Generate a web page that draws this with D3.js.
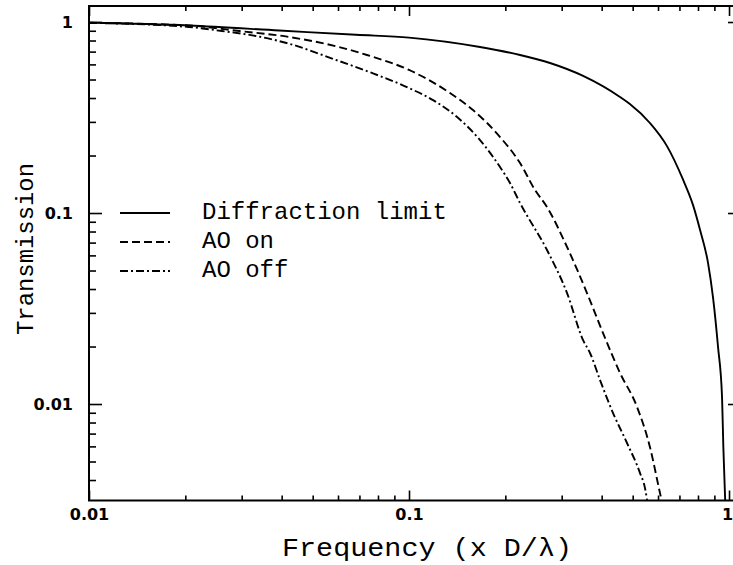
<!DOCTYPE html>
<html><head><meta charset="utf-8">
<script src="https://cdn.jsdelivr.net/npm/d3@7"></script>
<style>body{margin:0;background:#fff}</style>
</head><body>
<svg id="c" width="733" height="565"></svg>
<script>
// ---- data ----
const diffFreq  = [0.01, 0.0205, 0.0393, 0.0683, 0.1, 0.1667, 0.2223, 0.2758, 0.350, 0.4564, 0.490, 0.566, 0.640, 0.718, 0.772, 0.812, 0.860, 0.891, 0.924, 0.951, 0.960, 0.975];
const diffTrans = [0.994, 0.959, 0.903, 0.857, 0.829, 0.740, 0.672, 0.610, 0.522, 0.405, 0.372, 0.296, 0.224, 0.1498, 0.110, 0.0815, 0.0547, 0.0363, 0.0199, 0.0109, 0.00596, 0.0028];

const aoOnFreq  = [0.01, 0.0205, 0.0295, 0.0422, 0.0604, 0.0739, 0.1, 0.1343, 0.1585, 0.1925, 0.2223, 0.2476, 0.2699, 0.3118, 0.3599, 0.4040, 0.4564, 0.5160, 0.566, 0.6085, 0.625];
const aoOnTrans = [0.99, 0.959, 0.897, 0.835, 0.740, 0.672, 0.561, 0.425, 0.346, 0.250, 0.1827, 0.1319, 0.1075, 0.0664, 0.0381, 0.0235, 0.01454, 0.00965, 0.00596, 0.00342, 0.0028];

const aoOffFreq  = [0.01, 0.0205, 0.02603, 0.03326, 0.0422, 0.0604, 0.0654, 0.0766, 0.1, 0.1189, 0.1413, 0.1667, 0.1925, 0.2068, 0.2223, 0.2699, 0.3118, 0.3499, 0.3678, 0.3953, 0.4341, 0.4800, 0.5272, 0.5463, 0.56];
const aoOffTrans = [0.99, 0.942, 0.897, 0.845, 0.770, 0.625, 0.596, 0.541, 0.451, 0.390, 0.318, 0.241, 0.174, 0.1436, 0.1128, 0.0640, 0.0381, 0.0216, 0.0185, 0.01335, 0.00897, 0.00625, 0.00435, 0.00363, 0.0028];

const xMajorTicks = [0.01, 0.1, 1];
const xTickLabels = ["0.01", "0.1", "1"];
const xMinorTicks = [0.02,0.03,0.04,0.05,0.06,0.07,0.08,0.09,0.2,0.3,0.4,0.5,0.6,0.7,0.8,0.9];
const yMajorTicks = [1, 0.1, 0.01];
const yTickLabels = ["1", "0.1", "0.01"];
const yMinorTicks = [0.9,0.8,0.7,0.6,0.5,0.4,0.3,0.2,0.09,0.08,0.07,0.06,0.05,0.04,0.03,0.02,0.009,0.008,0.007,0.006,0.005,0.004];
const legendLabels = ["Diffraction limit", "AO on", "AO off"];
const xTitle = "Frequency (x D/\u03bb)";
const yTitle = "Transmission";

// ---- layout ----
const L = 89, R = 735, T = 6, B = 500.5;
const svg = d3.select("#c");
const x = d3.scaleLog().domain([0.01, 1.044]).range([L, R]);
const y = d3.scaleLog().domain([0.003125, 1.213]).range([B, T]);

svg.append("defs").append("clipPath").attr("id","pc")
  .append("rect").attr("x",L).attr("y",T).attr("width",R-L).attr("height",B-T);

const series = [
  {f: diffFreq, t: diffTrans, dash: null},
  {f: aoOnFreq, t: aoOnTrans, dash: "8,4"},
  {f: aoOffFreq, t: aoOffTrans, dash: "8,3,2,3"}
];
const line = d3.line().x(d => x(d[0])).y(d => y(d[1])).curve(d3.curveMonotoneX);
const g = svg.append("g").attr("clip-path","url(#pc)");
series.forEach(s => {
  g.append("path").datum(s.f.map((v,i)=>[v, s.t[i]]))
   .attr("d", line).attr("fill","none").attr("stroke","#000")
   .attr("stroke-width",1.9).attr("stroke-dasharray", s.dash);
});

// ---- axes ----
function styleAxis(sel){ sel.select(".domain").remove(); sel.selectAll("line").attr("stroke","#000").attr("stroke-width",1.6); }
const tickFont = "'DejaVu Sans', sans-serif";
svg.append("g").attr("transform",`translate(0,${B})`)
  .call(d3.axisBottom(x).tickValues(xMinorTicks).tickSize(-5).tickFormat("")).call(styleAxis);
const bx = svg.append("g").attr("transform",`translate(0,${B})`)
  .call(d3.axisBottom(x).tickValues(xMajorTicks).tickSize(-10).tickPadding(8).tickFormat((d,i)=>xTickLabels[i])).call(styleAxis);
bx.selectAll("text").attr("font-family",tickFont).attr("font-weight","bold").attr("font-size",16).attr("fill","#000")
  .attr("dx",(d,i)=> i===2 ? -2 : 0);
svg.append("g").attr("transform",`translate(0,${T})`)
  .call(d3.axisTop(x).tickValues(xMinorTicks).tickSize(-5).tickFormat("")).call(styleAxis);
svg.append("g").attr("transform",`translate(0,${T})`)
  .call(d3.axisTop(x).tickValues(xMajorTicks).tickSize(-10).tickFormat("")).call(styleAxis);
svg.append("g").attr("transform",`translate(${L},0)`)
  .call(d3.axisLeft(y).tickValues(yMinorTicks).tickSize(-7).tickFormat("")).call(styleAxis);
const ly = svg.append("g").attr("transform",`translate(${L},0)`)
  .call(d3.axisLeft(y).tickValues(yMajorTicks).tickSize(-13).tickPadding(16).tickFormat((d,i)=>yTickLabels[i])).call(styleAxis);
ly.selectAll("text").attr("font-family",tickFont).attr("font-weight","bold").attr("font-size",16).attr("fill","#000");
svg.append("g").attr("transform",`translate(${R},0)`)
  .call(d3.axisRight(y).tickValues(yMajorTicks).tickSize(-7).tickFormat("")).call(styleAxis);

svg.append("rect").attr("x",L).attr("y",T).attr("width",R-L).attr("height",B-T)
  .attr("fill","none").attr("stroke","#000").attr("stroke-width",2);

// ---- titles ----
const mono = "'Liberation Mono', 'Courier New', monospace";
svg.append("text").attr("x",282).attr("y",556).attr("font-family",mono).attr("font-size",26)
  .attr("textLength",290).attr("lengthAdjust","spacingAndGlyphs").attr("fill","#000").text(xTitle);
svg.append("text").attr("transform","translate(33,249) rotate(-90)").attr("text-anchor","middle")
  .attr("font-family",mono).attr("font-size",24).attr("textLength",172).attr("lengthAdjust","spacingAndGlyphs")
  .attr("fill","#000").text(yTitle);

// ---- legend ----
const legY = [219, 248, 277];
const legLineY = [213, 242, 271];
legendLabels.forEach((lab,i) => {
  svg.append("line").attr("x1",120).attr("x2",170).attr("y1",legLineY[i]).attr("y2",legLineY[i])
    .attr("stroke","#000").attr("stroke-width",1.9).attr("stroke-dasharray", series[i].dash);
  svg.append("text").attr("x",202).attr("y",legY[i]).attr("font-family",mono).attr("font-size",24)
    .attr("textLength", lab.length*14.4).attr("lengthAdjust","spacingAndGlyphs").attr("fill","#000").text(lab);
});
</script>
</body></html>
